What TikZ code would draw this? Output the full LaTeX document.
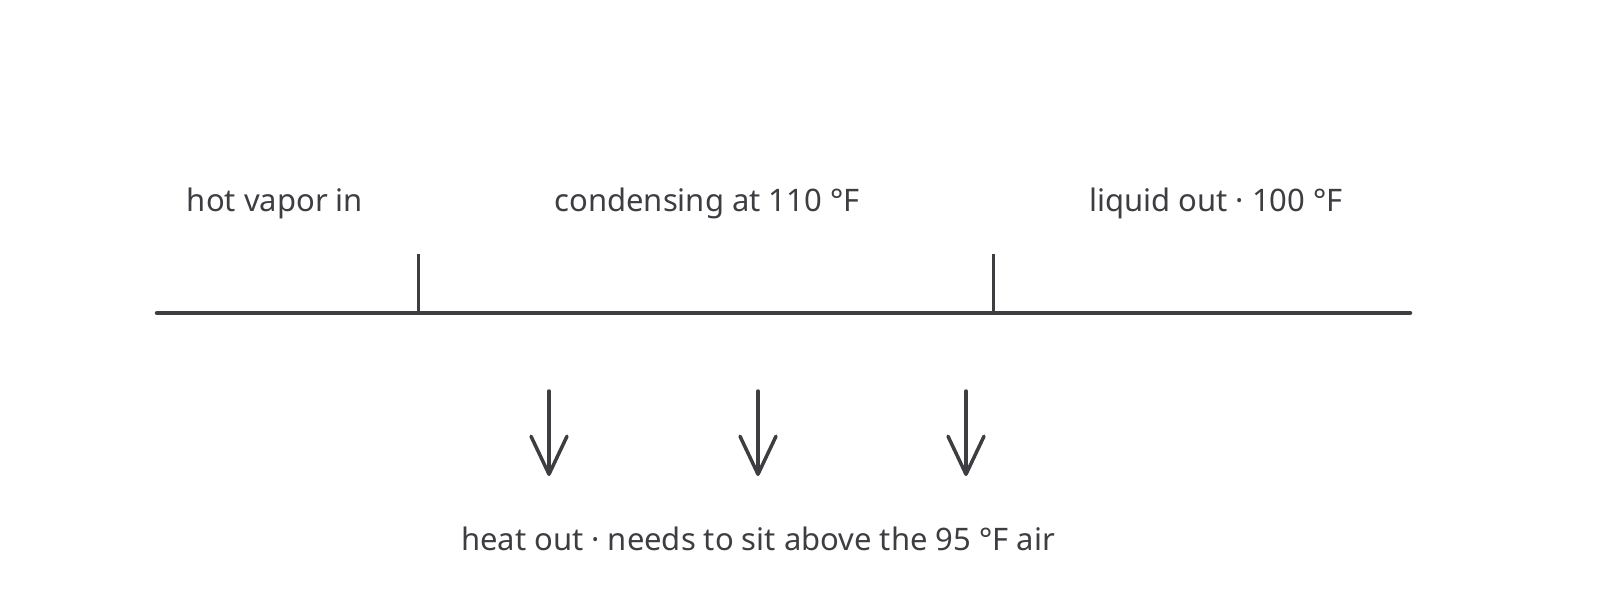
\documentclass[tikz,border=0pt]{standalone}
\usepackage{fontspec}
\setmainfont{Noto Sans}
\usetikzlibrary{arrows.meta}
\definecolor{ink}{HTML}{3D3D42}
\begin{document}
\begin{tikzpicture}[x=1pt,y=-1pt,
  lbl/.style={text=ink,font=\fontsize{31}{36}\selectfont,inner sep=0pt,anchor=base},
  pipe/.style={draw=ink,line width=4.5pt,line cap=round},
  tick/.style={draw=ink,line width=3pt},
  heat/.style={draw=ink,line width=3.5pt,line cap=round,
    -{Straight Barb[length=38pt,width=36pt,line width=3.5pt,round]}}]
\useasboundingbox (0,0) rectangle (1600,613);
% labels
\node[lbl] (vin) at (275,211) {hot vapor in};
\node[lbl] (cond) at (707,211) {condensing at 110 °F};
\node[lbl] (lout) at (1216,211) {liquid out · 100 °F};
\node[lbl] (hout) at (758,550) {heat out · needs to sit above the 95 °F air};
% pipe
\coordinate (pL) at (157,313);
\coordinate (pR) at (1410,313);
\draw[pipe] (pL) -- (pR);
\coordinate (t1a) at (418,254);
\coordinate (t1b) at (418,313);
\coordinate (t2a) at (993,254);
\coordinate (t2b) at (993,313);
\draw[tick] (t1a) -- (t1b);
\draw[tick] (t2a) -- (t2b);
% heat arrows
\foreach \i/\x in {1/549,2/758,3/966}{
  \coordinate (a\i) at (\x,391);
  \coordinate (b\i) at (\x,476);
  \draw[heat] (a\i) -- (b\i);
}
\end{tikzpicture}
\end{document}
